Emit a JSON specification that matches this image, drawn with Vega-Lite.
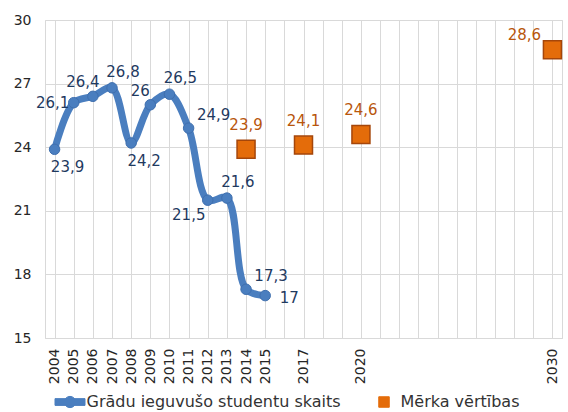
{
  "$schema": "https://vega.github.io/schema/vega-lite/v6.json",
  "autosize": "none",
  "width": 517,
  "height": 318,
  "padding": {"left": 45, "top": 20, "right": 6, "bottom": 74},
  "background": "white",
  "config": {
    "font": "DejaVu Sans",
    "view": {"stroke": "#d9d9d9", "strokeWidth": 1},
    "locale": {"number": {"decimal": ",", "thousands": " ", "grouping": [3], "currency": ["", ""]}}
  },
  "datasets": {
    "actual": [
      {"year": "2004", "value": 23.9, "series": "Grādu ieguvušo studentu skaits"},
      {"year": "2005", "value": 26.1, "series": "Grādu ieguvušo studentu skaits"},
      {"year": "2006", "value": 26.4, "series": "Grādu ieguvušo studentu skaits"},
      {"year": "2007", "value": 26.8, "series": "Grādu ieguvušo studentu skaits"},
      {"year": "2008", "value": 24.2, "series": "Grādu ieguvušo studentu skaits"},
      {"year": "2009", "value": 26.0, "series": "Grādu ieguvušo studentu skaits"},
      {"year": "2010", "value": 26.5, "series": "Grādu ieguvušo studentu skaits"},
      {"year": "2011", "value": 24.9, "series": "Grādu ieguvušo studentu skaits"},
      {"year": "2012", "value": 21.5, "series": "Grādu ieguvušo studentu skaits"},
      {"year": "2013", "value": 21.6, "series": "Grādu ieguvušo studentu skaits"},
      {"year": "2014", "value": 17.3, "series": "Grādu ieguvušo studentu skaits"},
      {"year": "2015", "value": 17.0, "series": "Grādu ieguvušo studentu skaits"}
    ],
    "target": [
      {"year": "2014", "value": 23.9, "series": "Mērka vērtības"},
      {"year": "2017", "value": 24.1, "series": "Mērka vērtības"},
      {"year": "2020", "value": 24.6, "series": "Mērka vērtības"},
      {"year": "2030", "value": 28.6, "series": "Mērka vērtības"}
    ]
  },
  "encoding": {
    "x": {
      "field": "year",
      "type": "ordinal",
      "scale": {
        "domain": ["2004","2005","2006","2007","2008","2009","2010","2011","2012","2013","2014","2015","2016","2017","2018","2019","2020","2021","2022","2023","2024","2025","2026","2027","2028","2029","2030"],
        "paddingInner": 0,
        "paddingOuter": 0
      },
      "axis": {
        "title": null,
        "bandPosition": 0,
        "labelAngle": -90,
        "labelPadding": 10,
        "labelFontSize": 14,
        "labelColor": "#262626",
        "labelExpr": "indexof(['2004','2005','2006','2007','2008','2009','2010','2011','2012','2013','2014','2015','2017','2020','2030'], datum.label) >= 0 ? datum.label : ''",
        "ticks": false,
        "grid": true,
        "gridColor": "#d9d9d9",
        "domainColor": "#d9d9d9",
        "labelOverlap": false
      }
    },
    "y": {
      "field": "value",
      "type": "quantitative",
      "scale": {"domain": [15, 30], "nice": false, "zero": false},
      "axis": {
        "title": null,
        "values": [15, 18, 21, 24, 27, 30],
        "ticks": false,
        "domain": false,
        "gridColor": "#d9d9d9",
        "labelPadding": 14,
        "labelFontSize": 14,
        "labelColor": "#262626"
      }
    }
  },
  "layer": [
    {
      "data": {"name": "actual"},
      "mark": {"type": "line", "strokeWidth": 7, "interpolate": "catmull-rom", "strokeCap": "round", "strokeJoin": "round"},
      "encoding": {
        "color": {
          "field": "series",
          "type": "nominal",
          "scale": {"domain": ["Grādu ieguvušo studentu skaits", "Mērka vērtības"], "range": ["#4a7ebf", "#e46c0a"]},
          "legend": {
            "orient": "none",
            "direction": "horizontal",
            "legendX": 17,
            "legendY": 374,
            "padding": 0,
            "title": null,
            "symbolSize": 225,
            "labelFontSize": 16,
            "labelLimit": 0,
            "labelColor": "#333333",
            "labelOffset": 8.5,
            "columnPadding": 35,
            "encode": {
              "symbols": {
                "update": {
                  "shape": {"signal": "datum.value === 'Mērka vērtības' ? 'M-0.7,-0.7H0.7V0.7H-0.7Z' : 'M-2,-0.45H2V0.45H-2Z M0.75,0A0.75,0.75 0 1,1 -0.75,0A0.75,0.75 0 1,1 0.75,0Z'"},
                  "fill": {"signal": "datum.value === 'Mērka vērtības' ? '#e46c0a' : '#4a7ebf'"},
                  "stroke": {"signal": "datum.value === 'Mērka vērtības' ? '#a5460a' : '#4a7ebf'"},
                  "strokeWidth": {"value": 1},
                  "opacity": {"value": 1}
                }
              }
            }
          }
        }
      }
    },
    {
      "data": {"name": "actual"},
      "mark": {"type": "point", "shape": "circle", "filled": true, "size": 110, "color": "#4a7ebf", "stroke": "#3f6fae", "strokeWidth": 1, "opacity": 1}
    },
    {
      "data": {"name": "target"},
      "mark": {"type": "point", "shape": "square", "filled": true, "size": 324, "fill": "#e46c0a", "stroke": "#a5460a", "strokeWidth": 1.5, "opacity": 1}
    },
    {
      "data": {"name": "actual"},
      "transform": [{"filter": "indexof(['2004','2008'], datum.year) >= 0"}],
      "mark": {"type": "text", "fontSize": 15, "color": "#1f3a5f", "dx": 13, "dy": 18},
      "encoding": {"text": {"field": "value", "type": "quantitative", "format": "~g"}}
    },
    {
      "data": {"name": "actual"},
      "transform": [{"filter": "datum.year === '2005'"}],
      "mark": {"type": "text", "fontSize": 15, "color": "#1f3a5f", "dx": -21, "dy": 0},
      "encoding": {"text": {"field": "value", "type": "quantitative", "format": "~g"}}
    },
    {
      "data": {"name": "actual"},
      "transform": [{"filter": "indexof(['2006','2009'], datum.year) >= 0"}],
      "mark": {"type": "text", "fontSize": 15, "color": "#1f3a5f", "dx": -10, "dy": -14},
      "encoding": {"text": {"field": "value", "type": "quantitative", "format": "~g"}}
    },
    {
      "data": {"name": "actual"},
      "transform": [{"filter": "indexof(['2007','2010','2013'], datum.year) >= 0"}],
      "mark": {"type": "text", "fontSize": 15, "color": "#1f3a5f", "dx": 11, "dy": -16},
      "encoding": {"text": {"field": "value", "type": "quantitative", "format": "~g"}}
    },
    {
      "data": {"name": "actual"},
      "transform": [{"filter": "indexof(['2011','2014'], datum.year) >= 0"}],
      "mark": {"type": "text", "fontSize": 15, "color": "#1f3a5f", "dx": 25, "dy": -13},
      "encoding": {"text": {"field": "value", "type": "quantitative", "format": "~g"}}
    },
    {
      "data": {"name": "actual"},
      "transform": [{"filter": "datum.year === '2012'"}],
      "mark": {"type": "text", "fontSize": 15, "color": "#1f3a5f", "dx": -19, "dy": 15},
      "encoding": {"text": {"field": "value", "type": "quantitative", "format": "~g"}}
    },
    {
      "data": {"name": "actual"},
      "transform": [{"filter": "datum.year === '2015'"}],
      "mark": {"type": "text", "fontSize": 15, "color": "#1f3a5f", "dx": 24, "dy": 2},
      "encoding": {"text": {"field": "value", "type": "quantitative", "format": "~g"}}
    },
    {
      "data": {"name": "target"},
      "transform": [{"filter": "datum.year !== '2030'"}],
      "mark": {"type": "text", "fontSize": 15, "color": "#b8560c", "dx": 0, "dy": -24},
      "encoding": {"text": {"field": "value", "type": "quantitative", "format": "~g"}}
    },
    {
      "data": {"name": "target"},
      "transform": [{"filter": "datum.year === '2030'"}],
      "mark": {"type": "text", "fontSize": 15, "color": "#b8560c", "dx": -28, "dy": -15},
      "encoding": {"text": {"field": "value", "type": "quantitative", "format": "~g"}}
    }
  ]
}
